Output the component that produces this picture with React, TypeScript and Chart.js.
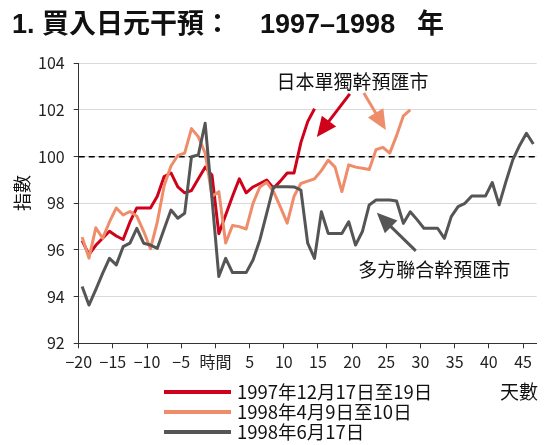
import { useEffect, useRef } from "react"
import { Chart, registerables } from "chart.js"

Chart.register(...registerables)

// días relativos a la intervención (0 = momento de la intervención)
const days = [
    -20, -19, -18, -17, -16, -15, -14, -13, -12, -11, -10, -9, -8, -7, -6, -5, -4, -3, -2, -1,
    0, 1, 2, 3, 4, 5, 6, 7, 8, 9, 10, 11, 12, 13, 14, 15, 16, 17, 18, 19, 20, 21, 22, 23, 24,
    25, 26, 27, 28, 29, 30, 31, 32, 33, 34, 35, 36, 37, 38, 39, 40, 41, 42, 43, 44, 45, 46,
]

// 1997年12月17日至19日 (días -20 a 14)
const dec1997 = [
    96.4, 95.8, 96.2, 96.5, 96.8, 96.6, 96.45, 97.2, 97.8, 97.8, 97.8, 98.3, 99.15, 99.3, 98.7,
    98.45, 98.55, 99.05, 99.55, 99.2, 96.7, 97.5, 98.3, 99.05, 98.45, 98.7, 98.85, 99.0, 98.65,
    98.95, 99.3, 99.3, 100.6, 101.5, 102.05,
]

// 1998年4月9日至10日 (días -20 a 28)
const apr1998 = [
    96.55, 95.65, 96.95, 96.5, 97.2, 97.8, 97.5, 97.65, 97.45, 96.8, 96.05, 97.2, 98.75, 99.6,
    100.05, 100.15, 101.2, 100.85, 100.15, 98.3, 98.5, 96.3, 97.05, 97.0, 96.9, 98.0, 98.7, 98.9,
    98.5, 97.85, 97.15, 98.3, 98.85, 98.95, 99.05, 99.4, 99.85, 99.55, 98.5, 99.65, 99.55, 99.5,
    99.45, 100.3, 100.4, 100.15, 100.9, 101.75, 102.0,
]

// 1998年6月17日 (días -20 a 46)
const jun1998 = [
    94.43, 93.64, 94.3, 95.0, 95.64, 95.36, 96.14, 96.29, 96.93, 96.29, 96.21, 96.07, 96.9,
    97.71, 97.36, 97.57, 100.0, 100.07, 101.43, 98.2, 94.86, 95.64, 95.03, 95.03, 95.03, 95.57,
    96.43, 97.57, 98.71, 98.71, 98.71, 98.7, 98.57, 96.29, 95.64, 97.64, 96.71, 96.71, 96.71,
    97.21, 96.21, 96.79, 97.93, 98.14, 98.14, 98.14, 98.1, 97.14, 97.64, 97.3, 96.93, 96.93,
    96.93, 96.5, 97.43, 97.86, 98.0, 98.31, 98.31, 98.31, 98.89, 97.93, 98.93, 99.86, 100.48,
    101.0, 100.54,
]

const xTicks = [-20, -15, -10, -5, 0, 5, 10, 15, 20, 25, 30, 35, 40, 45]
const yTicks = [92, 94, 96, 98, 100, 102, 104]

const seriesNames = ["1997年12月17日至19日", "1998年4月9日至10日", "1998年6月17日"]
const seriesColors = ["#d0021b", "#ef8d6b", "#555555"]

const CJK = '"Noto Sans CJK TC", "Noto Sans CJK JP", sans-serif'

// los puntos quedan en el centro de cada día
const toPoints = (values: number[]) => values.map((v, i) => ({ x: days[i] + 0.5, y: v }))

function drawArrow(ctx: CanvasRenderingContext2D, x1: number, y1: number, x2: number, y2: number, color: string) {
    const headLen = 20
    const headW = 18
    const ang = Math.atan2(y2 - y1, x2 - x1)
    const cos = Math.cos(ang)
    const sin = Math.sin(ang)
    const bx = x2 - headLen * cos
    const by = y2 - headLen * sin
    ctx.strokeStyle = color
    ctx.fillStyle = color
    ctx.lineWidth = 3
    ctx.beginPath()
    ctx.moveTo(x1, y1)
    ctx.lineTo(bx + cos, by + sin)
    ctx.stroke()
    ctx.beginPath()
    ctx.moveTo(x2, y2)
    ctx.lineTo(bx + (headW / 2) * sin, by - (headW / 2) * cos)
    ctx.lineTo(bx - (headW / 2) * sin, by + (headW / 2) * cos)
    ctx.closePath()
    ctx.fill()
}

const decorations = {
    id: "decorations",
    beforeDatasetsDraw(chart: any) {
        const { ctx, chartArea, scales } = chart
        const y = scales.y.getPixelForValue(100)
        ctx.save()
        ctx.strokeStyle = "#000"
        ctx.lineWidth = 1.5
        ctx.setLineDash([6, 4])
        ctx.beginPath()
        ctx.moveTo(chartArea.left, y)
        ctx.lineTo(chartArea.right, y)
        ctx.stroke()
        ctx.restore()
    },
    afterDraw(chart: any) {
        const { ctx, scales } = chart
        const px = (d: number) => scales.x.getPixelForValue(d)
        const py = (v: number) => scales.y.getPixelForValue(v)
        ctx.save()

        // título
        ctx.fillStyle = "#111"
        ctx.textBaseline = "alphabetic"
        ctx.textAlign = "left"
        ctx.font = 'bold 27px "Liberation Sans", "Noto Sans CJK TC", sans-serif'
        ctx.fillText("1. 買入日元干預：", 12, 33)
        ctx.fillText("1997–1998", 260, 33)
        ctx.fillText("年", 417, 33)

        // eje y
        ctx.font = "18px " + CJK
        ctx.textAlign = "center"
        ctx.textBaseline = "middle"
        ctx.save()
        ctx.translate(22, 193)
        ctx.rotate(-Math.PI / 2)
        ctx.fillText("指數", 0, 0)
        ctx.restore()

        // unidad eje x
        ctx.font = "19px " + CJK
        ctx.textAlign = "left"
        ctx.fillText("天數", 500, 392)

        // leyenda
        ctx.font = "18.5px " + CJK
        seriesNames.forEach((name, i) => {
            const y = 392 + i * 20
            ctx.strokeStyle = seriesColors[i]
            ctx.lineWidth = 4
            ctx.beginPath()
            ctx.moveTo(164, y)
            ctx.lineTo(231, y)
            ctx.stroke()
            ctx.fillStyle = "#111"
            ctx.fillText(name, 237, y)
        })

        // anotaciones
        ctx.font = "19px " + CJK
        ctx.fillStyle = "#111"
        ctx.fillText("日本單獨幹預匯市", px(8.95), py(103.21))
        ctx.fillText("多方聯合幹預匯市", px(20.9), py(95.14))

        drawArrow(ctx, px(19.66), py(102.69), px(14.84), py(100.84), seriesColors[0])
        drawArrow(ctx, px(21.71), py(102.73), px(24.93), py(101.14), seriesColors[1])
        drawArrow(ctx, px(29.31), py(95.96), px(23.61), py(97.59), seriesColors[2])

        ctx.restore()
    },
}

export default function App() {
    const chartRef = useRef<HTMLCanvasElement>(null)
    const chartInstance = useRef<Chart | null>(null)

    useEffect(() => {
        document.body.style.margin = "0"
        if (!chartRef.current) return
        if (chartInstance.current) chartInstance.current.destroy()
        const ctx = chartRef.current.getContext("2d")
        if (!ctx) return

        const series = [dec1997, apr1998, jun1998]

        chartInstance.current = new Chart(ctx, {
            type: "line",
            data: {
                datasets: series.map((values, i) => ({
                    label: seriesNames[i],
                    data: toPoints(values),
                    borderColor: seriesColors[i],
                    borderWidth: 3,
                    pointRadius: 0,
                    tension: 0,
                    borderJoinStyle: "round" as const,
                    fill: false,
                    order: 3 - i,
                })),
            },
            options: {
                responsive: true,
                maintainAspectRatio: false,
                animation: false,
                layout: {
                    padding: { left: 0, top: 63.3, right: 15.3, bottom: 71.7 },
                },
                plugins: {
                    legend: { display: false },
                    tooltip: { enabled: false },
                },
                scales: {
                    x: {
                        type: "linear",
                        min: -20,
                        max: 47,
                        afterFit: (scale: any) => {
                            scale.height = 30
                        },
                        afterBuildTicks: (scale: any) => {
                            scale.ticks = xTicks.map((v) => ({ value: v }))
                        },
                        grid: {
                            drawOnChartArea: false,
                            drawTicks: true,
                            tickLength: 5,
                            tickColor: "#333",
                        },
                        border: { display: true, color: "#333", width: 1 },
                        ticks: {
                            autoSkip: false,
                            maxRotation: 0,
                            padding: 4,
                            color: "#222",
                            font: { family: CJK, size: 16 },
                            callback: (v: any) => (v === 0 ? "時間" : v < 0 ? "−" + Math.abs(v) : String(v)),
                        },
                    },
                    y: {
                        min: 92,
                        max: 104,
                        afterFit: (scale: any) => {
                            scale.width = 78.7
                        },
                        afterBuildTicks: (scale: any) => {
                            scale.ticks = yTicks.map((v) => ({ value: v }))
                        },
                        grid: {
                            color: "#d9d9d9",
                            lineWidth: 1,
                            drawTicks: true,
                            tickLength: 5,
                            tickColor: "#333",
                        },
                        border: { display: true, color: "#333", width: 1 },
                        ticks: {
                            padding: 9,
                            color: "#222",
                            font: { family: CJK, size: 16 },
                        },
                    },
                },
            },
            plugins: [decorations],
        })

        return () => {
            if (chartInstance.current) {
                chartInstance.current.destroy()
                chartInstance.current = null
            }
        }
    }, [])

    return (
        <div style={{ width: 552, height: 445, position: "relative" }}>
            <canvas ref={chartRef} />
        </div>
    )
}
